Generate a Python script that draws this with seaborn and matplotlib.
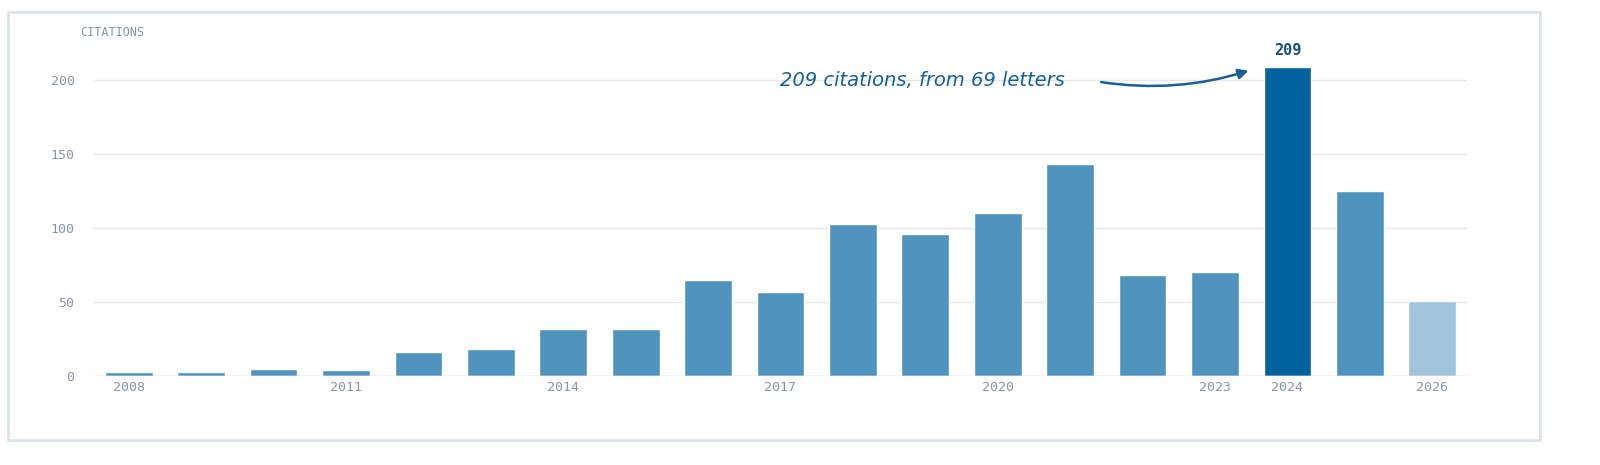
import matplotlib
matplotlib.use("Agg")
import matplotlib.pyplot as plt
import seaborn as sns
import pandas as pd
from matplotlib.patches import Rectangle, FancyArrowPatch

years = list(range(2008, 2027))
citations = [3, 3, 5, 4, 16, 18, 32, 32, 65, 57, 103, 96, 110, 143, 68, 70, 209, 125, 51]
shown_ticks = ["2008", "2011", "2014", "2017", "2020", "2023", "2024", "2026"]

base, peak, partial = "#4f93bf", "#00639e", "#a0c4da"
colors = [peak if y == 2024 else partial if y == 2026 else base for y in years]

sns.set_theme(style="white")
plt.rcParams["font.family"] = ["DejaVu Sans Mono"]

fig = plt.figure(figsize=(16, 4.65), dpi=100)
fig.patches.append(Rectangle((8/1600, 1-440/465), 1532/1600, 428/465, transform=fig.transFigure,
                             fill=False, edgecolor="#dde3e8", linewidth=2))
ax = fig.add_axes([94/1600, 89/465, 1373/1600, 318/465])
df = pd.DataFrame({"year": [str(y) for y in years], "c": citations})
sns.barplot(data=df, x="year", y="c", hue="year", palette=colors, legend=False, ax=ax, width=0.66, saturation=1)
ax.set_xlim(-0.48, len(years) - 0.52)
ax.set_ylim(0, 215)
ax.set_yticks([0, 50, 100, 150, 200])
ax.yaxis.grid(True, color="#e3e8ed", linewidth=1)
ax.set_axisbelow(True)
for s in ax.spines.values():
    s.set_visible(False)
ax.axhline(0, color="#d5dce3", linewidth=1)
ax.set_xticks([years.index(int(t)) for t in shown_ticks])
ax.set_xticklabels(shown_ticks)
ax.tick_params(axis="both", colors="#8a96a3", labelsize=9.5, length=0)
ax.tick_params(axis="y", pad=14)
ax.set_xlabel(""); ax.set_ylabel("")
fig.text(80/1600, 1-33/465, "CITATIONS", color="#8a96a3", fontsize=8.5, va="center")
i24 = years.index(2024)
ax.text(i24, 209 + 6, "209", ha="center", va="bottom", color="#1a4f7a", fontsize=11, fontweight="bold")
ax.text(i24 - 5.04, 200, "209 citations, from 69 letters", ha="center", va="center", color="#1a5f96",
        fontsize=14, style="italic", family="DejaVu Sans")
arr = FancyArrowPatch((i24 - 2.61, 199), (i24 - 0.5, 207), connectionstyle="arc3,rad=0.12",
                      arrowstyle="-|>,head_length=6,head_width=3", color="#1a5f96", linewidth=1.8)
ax.add_patch(arr)
fig.savefig("out.png", dpi=100)
